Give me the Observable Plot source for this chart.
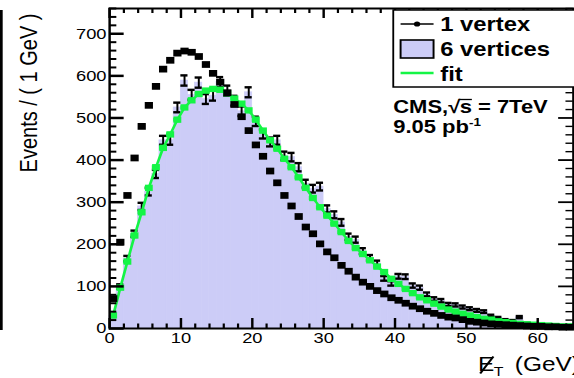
<!DOCTYPE html>
<html><head><meta charset="utf-8">
<script src="https://cdn.jsdelivr.net/npm/d3@7"></script>
<script src="https://cdn.jsdelivr.net/npm/@observablehq/plot@0.6"></script>
<style>
html,body{margin:0;padding:0;background:#fff;overflow:hidden}
#chart{width:574px;height:378px;position:relative;overflow:hidden;background:#fff}
#chart svg{transform-origin:0 0;transform:scaleX(1.2213);max-width:none;display:block}
</style></head><body><div id="chart"></div>
<script>
// bin centres (GeV), 1 GeV bins
const binCenters = [0.5,1.5,2.5,3.5,4.5,5.5,6.5,7.5,8.5,9.5,10.5,11.5,12.5,13.5,14.5,15.5,16.5,17.5,18.5,19.5,
  20.5,21.5,22.5,23.5,24.5,25.5,26.5,27.5,28.5,29.5,30.5,31.5,32.5,33.5,34.5,35.5,36.5,37.5,38.5,39.5,
  40.5,41.5,42.5,43.5,44.5,45.5,46.5,47.5,48.5,49.5,50.5,51.5,52.5,53.5,54.5,55.5,56.5,57.5,58.5,59.5,
  60.5,61.5,62.5,63.5,64.5];
const oneVertex = [71,205,316,405,480,530,575,616,637,654,659,656,646,627,606,585,560,532,503,470,
  436,409,374,346,316,291,266,241,225,201,182,168,150,136,122,110,100,90,82,73,
  67,60,53,47,41,36,31,27,25,21,17,15,13,11,10,9,8,7,6,5,
  5,4,4,3,3];
const sixVertices = [30,100,166,225,290,325,367,447,447,525,589,555,584,545,553,585,565,541,516,561,
  492,462,443,447,410,407,383,344,332,337,284,270,252,218,211,184,168,155,119,107,
  124,123,102,97,81,70,66,57,56,51,47,43,40,30,25,20,18,27,12,10,
  8,7,7,5,4];
const fitValues = [31,97,159,221,276,334,383,429,461,496,525,542,557,565,569,567,559,546,534,518,
  496,470,447,427,403,383,359,334,310,288,268,249,229,208,191,177,162,147,134,118,
  106,94,84,74,67,59,52,45,40,35,31,27,23,21,17,15,13,11,10,9,
  8,7,6,5,5];
const yTicks = [0,100,200,300,400,500,600,700];
const xTicks = [0,10,20,30,40,50,60];
const legendLabels = ["1 vertex","6 vertices","fit"];

const LAV = "#ccccf7", GREEN = "#14f545";
const W = 470, H = 378, ML = 89.25, MR = 1, MT = 8, MB = 50;
const IW = W - ML - MR, IH = H - MT - MB;
const yMinor = d3.range(0, 761, 20).filter(v => v % 100 !== 0);
const xMinor = d3.range(0, 66, 2).filter(v => v % 10 !== 0);

const rows = binCenters.map((x, i) => ({x, one: oneVertex[i], six: sixVertices[i], fit: fitValues[i]}));
const err = d => Math.sqrt(d.six) * 0.5;

const svg = Plot.plot({
  width: W, height: H,
  marginLeft: ML, marginRight: MR, marginTop: MT, marginBottom: MB,
  x: {domain: [0, 65]},
  y: {domain: [0, 760]},
  style: {fontFamily: "'Liberation Sans', Arial, sans-serif", background: "white"},
  marks: [
    Plot.rectY(rows, {x1: d => d.x - 0.5, x2: d => d.x + 0.5, y1: 0, y2: "six", fill: LAV, stroke: LAV, strokeWidth: 0.6}),
    Plot.ruleX(rows, {x: "x", y1: d => d.six - err(d), y2: d => d.six + err(d), stroke: "black", strokeWidth: 1.6}),
    Plot.ruleY(rows, {y: d => d.six + err(d), x1: d => d.x - 0.5, x2: d => d.x + 0.5, stroke: "black", strokeWidth: 2.4}),
    Plot.ruleY(rows, {y: d => d.six - err(d), x1: d => d.x - 0.5, x2: d => d.x + 0.5, stroke: "black", strokeWidth: 2.4}),
    Plot.line(rows, {x: "x", y: "fit", stroke: GREEN, strokeWidth: 2.2}),
    Plot.ruleY(rows, {y: "fit", x1: d => d.x - 0.5, x2: d => d.x + 0.5, stroke: GREEN, strokeWidth: 4}),
    Plot.dot(rows, {x: "x", y: "fit", symbol: "square", r: 3.6, fill: GREEN}),
    Plot.dot(rows, {x: "x", y: "one", symbol: "square", r: 3.8, fill: "black"}),
    // ticks (inside the frame)
    Plot.ruleY(yTicks, {y: d => d, insetRight: IW - 12, stroke: "black", strokeWidth: 2.5}),
    Plot.ruleY(yMinor, {y: d => d, insetRight: IW - 6, stroke: "black", strokeWidth: 2}),
    Plot.ruleY(yTicks, {y: d => d, insetLeft: IW - 12, stroke: "black", strokeWidth: 1.8}),
    Plot.ruleY(yMinor, {y: d => d, insetLeft: IW - 6, stroke: "black", strokeWidth: 1.4}),
    Plot.ruleX(xTicks, {x: d => d, insetTop: IH - 10, stroke: "black", strokeWidth: 2}),
    Plot.ruleX(xMinor, {x: d => d, insetTop: IH - 4.5, stroke: "black", strokeWidth: 1.8}),
    Plot.ruleX(xTicks, {x: d => d, insetBottom: IH - 10, stroke: "black", strokeWidth: 2}),
    Plot.ruleX(xMinor, {x: d => d, insetBottom: IH - 5, stroke: "black", strokeWidth: 1.8}),
    Plot.frame({stroke: "black", strokeWidth: 2}),
    Plot.axisY(yTicks, {tickSize: 0, tickPadding: 2.5, fontSize: 15, label: null, fill: "black"}),
    Plot.axisX(xTicks, {tickSize: 0, tickPadding: 4, fontSize: 15, label: null, fill: "black"})
  ]
});
document.getElementById("chart").appendChild(svg);

const s = d3.select(svg);
const FF = "'Liberation Sans', Arial, sans-serif";
// left border bar
s.append("rect").attr("x", 0).attr("y", 10).attr("width", 2.2).attr("height", 320).attr("fill", "black");
// y label
s.append("text").attr("transform", "translate(30.6,93) rotate(-90)")
  .attr("text-anchor", "middle").attr("font-family", FF).attr("font-size", 20).attr("fill", "black")
  .text("Events / ( 1 GeV )");
// legend box
const lg = s.append("g").attr("text-anchor", "start");
lg.append("rect").attr("x", 322).attr("y", 10).attr("width", 200).attr("height", 77)
  .attr("fill", "white").attr("stroke", "black").attr("stroke-width", 1.5);
lg.append("line").attr("x1", 328).attr("x2", 355).attr("y1", 24).attr("y2", 24).attr("stroke", "black").attr("stroke-width", 1.5);
lg.append("circle").attr("cx", 341.5).attr("cy", 24).attr("r", 2.6).attr("fill", "black");
lg.append("rect").attr("x", 328).attr("y", 40).attr("width", 27).attr("height", 18)
  .attr("fill", LAV).attr("stroke", "black").attr("stroke-width", 1.6);
lg.append("line").attr("x1", 328).attr("x2", 355).attr("y1", 73).attr("y2", 73).attr("stroke", GREEN).attr("stroke-width", 2.5);
[30.7, 56, 81.5].forEach((yy, i) => {
  lg.append("text").attr("x", 360.5).attr("y", yy).attr("font-family", FF).attr("font-weight", "bold")
    .attr("font-size", 19.5).attr("fill", "black").text(legendLabels[i]);
});
// CMS text
const tg = s.append("g").attr("text-anchor", "start").attr("font-family", FF).attr("font-weight", "bold")
  .attr("font-size", 18).attr("fill", "black");
const t1 = tg.append("text").attr("x", 322).attr("y", 113).text("CMS,");
let xx = 322 + t1.node().getComputedTextLength();
const t2 = tg.append("text").attr("x", xx).attr("y", 113).text("\u221A");
xx += t2.node().getComputedTextLength() - 0.5;
tg.append("text").attr("x", xx).attr("y", 113).text("s = 7TeV");
s.append("line").attr("x1", xx - 0.5).attr("x2", xx + 10).attr("y1", 99.5).attr("y2", 99.5).attr("stroke", "black").attr("stroke-width", 1.3);
const t4 = tg.append("text").attr("x", 322).attr("y", 133);
t4.append("tspan").text("9.05 pb");
t4.append("tspan").attr("font-size", 11).attr("dy", -7).text("-1");
// x label: missing E_T (GeV)
const xl = s.append("g").attr("font-family", FF).attr("fill", "black").attr("text-anchor", "start");
xl.append("text").attr("x", 391.4).attr("y", 371).attr("font-size", 20).text("E");
xl.append("line").attr("x1", 393.2).attr("y1", 373.5).attr("x2", 404).attr("y2", 356.5).attr("stroke", "black").attr("stroke-width", 1.8);
xl.append("text").attr("x", 404.2).attr("y", 376.5).attr("font-size", 13).text("T");
xl.append("text").attr("x", 421.5).attr("y", 371).attr("font-size", 20).text("(GeV)");
</script></body></html>
